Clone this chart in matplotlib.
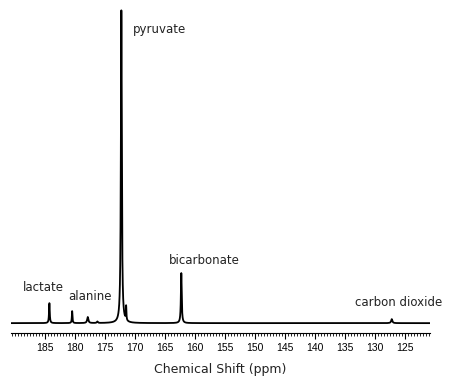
import numpy as np
import matplotlib.pyplot as plt

# Picos del espectro 13C (posición ppm, altura, semiancho ppm)
peak_ppm = [184.3, 180.5, 177.9, 176.3, 172.3, 171.5, 162.3, 127.2]
peak_height = [20, 12, 6, 1.5, 313, 14, 50, 4]
peak_hwhm = [0.07, 0.06, 0.12, 0.1, 0.09, 0.05, 0.08, 0.12]

# Etiquetas de metabolitos
labels = ['lactate', 'alanine', 'pyruvate', 'bicarbonate', 'carbon dioxide']
label_x = [185.3, 177.5, 170.3, 158.5, 126.0]
label_y = [36, 27, 293, 63, 21]
label_ha = ['center', 'center', 'left', 'center', 'center']

xmin, xmax = 190.7, 120.8

ppm = np.linspace(xmin, xmax, 8000)
spec = np.zeros_like(ppm)
for p, h, w in zip(peak_ppm, peak_height, peak_hwhm):
    spec += h * w**2 / ((ppm - p)**2 + w**2)

fig = plt.figure(figsize=(4.49, 3.79), dpi=100)
ax = fig.add_axes([0.0245, 0.121, 0.9335, 0.858])
ax.plot(ppm, spec, color='black', linewidth=1.3)

ax.set_xlim(xmin, xmax)
ax.set_ylim(-10, 315)

for s in ['top', 'left', 'right']:
    ax.spines[s].set_visible(False)
ax.spines['bottom'].set_linewidth(0.8)
ax.set_yticks([])

ax.set_xticks(np.arange(125, 190, 5))
ax.set_xticks(np.arange(121, 190.6, 0.5), minor=True)
ax.tick_params(axis='x', which='major', length=4.5, width=0.8, labelsize=7.5, pad=2.5)
ax.tick_params(axis='x', which='minor', length=2.5, width=0.6)
for t in ax.get_xticklabels():
    t.set_family('Liberation Sans')

ax.set_xlabel('Chemical Shift (ppm)', fontsize=9, labelpad=7, color='#222222')

for txt, x, y, ha in zip(labels, label_x, label_y, label_ha):
    ax.text(x, y, txt, ha=ha, va='center', fontsize=8.5, color='#222222')

plt.savefig('out.png', dpi=100)
